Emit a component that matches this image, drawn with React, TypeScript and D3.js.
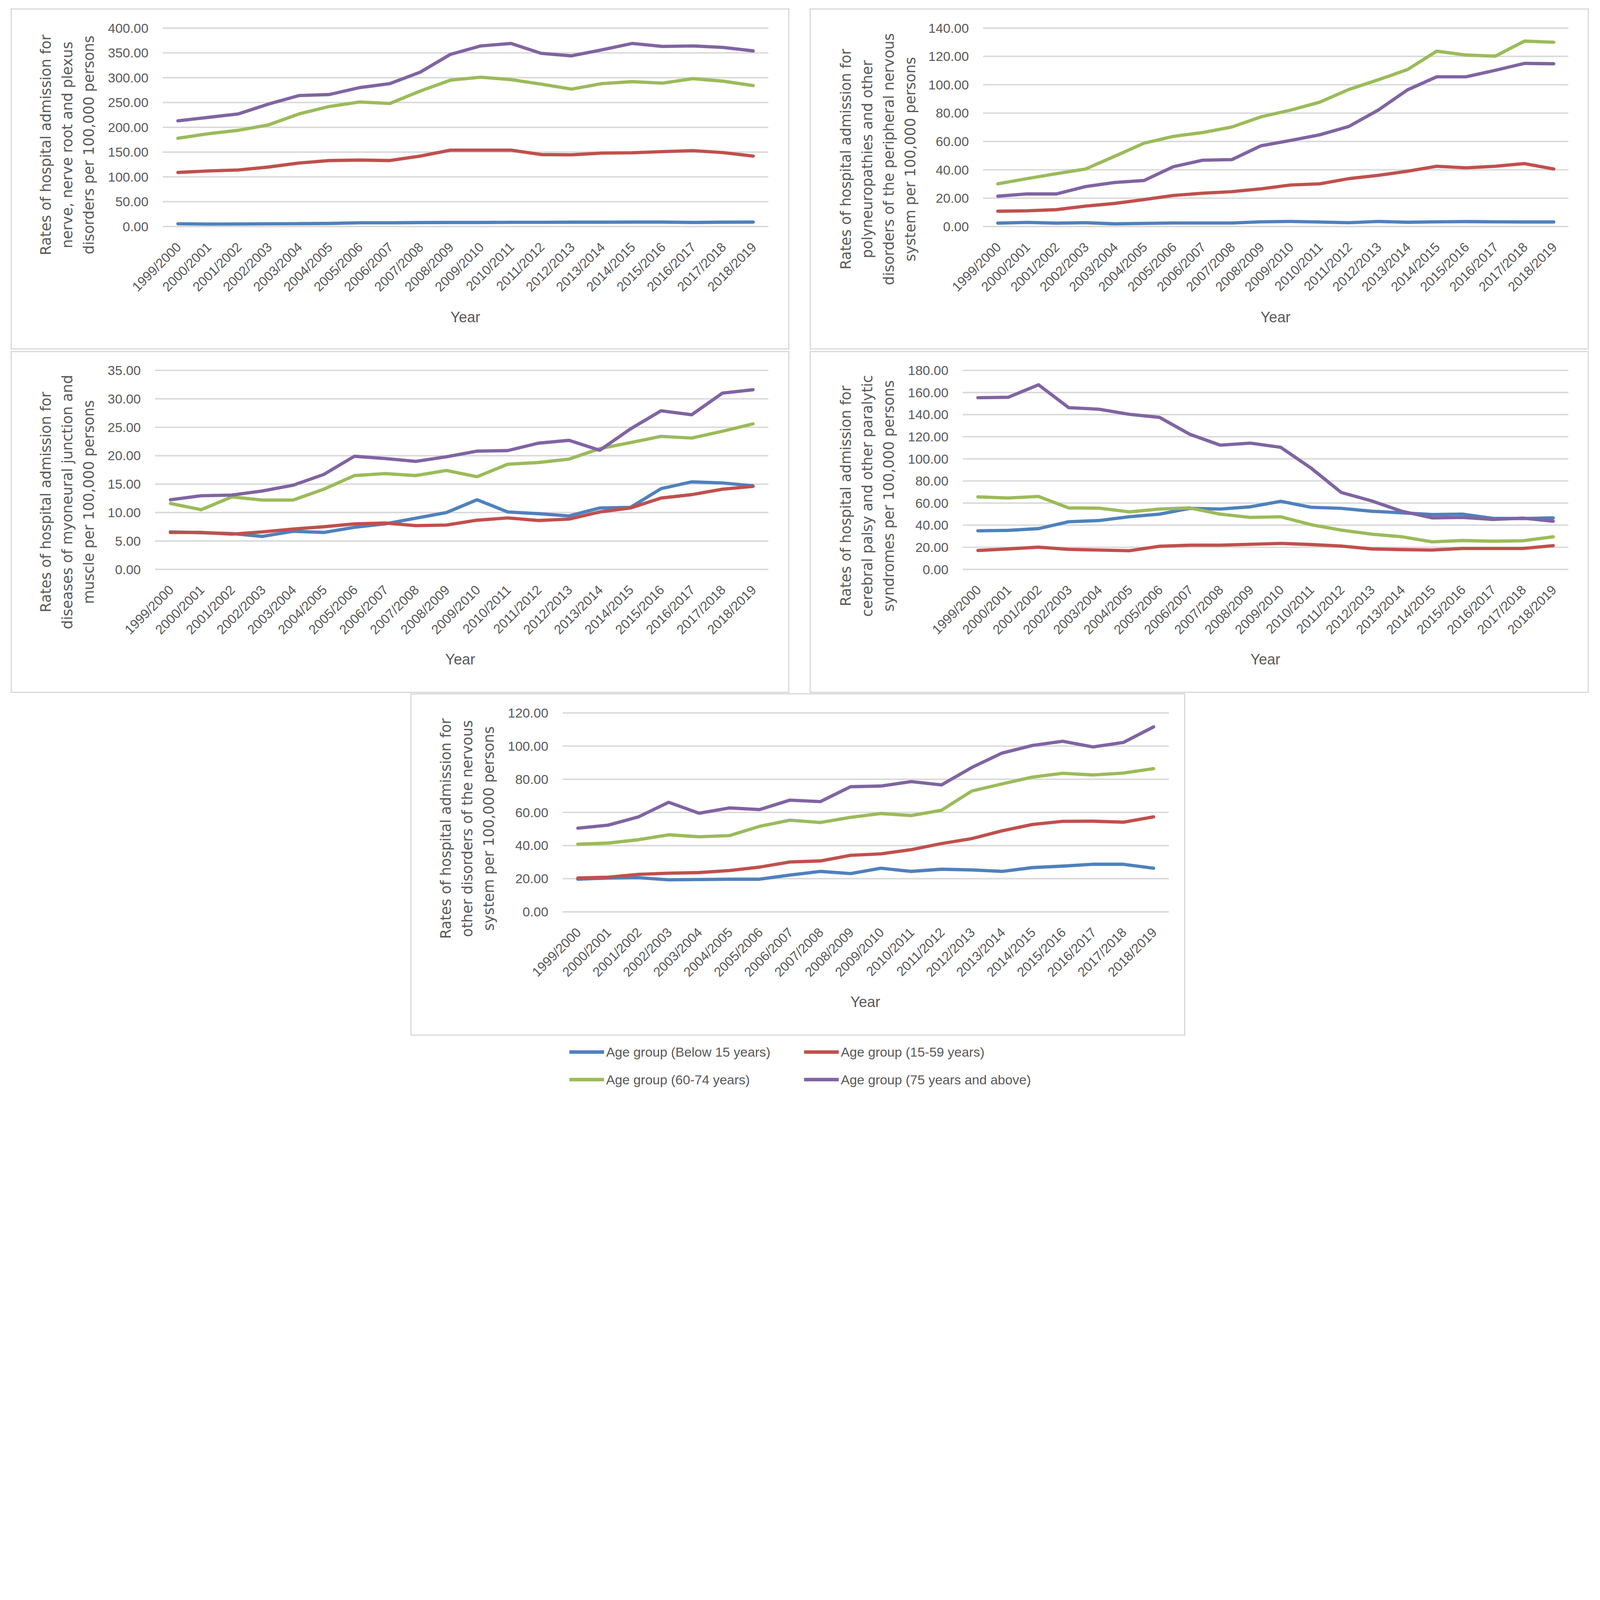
import { useEffect, useRef } from 'react';
import * as d3 from 'd3';

// display units: the reference is 7538 px wide, drawn here on a 1568-wide viewBox
const W = 1568;
const H = 5150 / (7538 / W);

const years = [
  '1999/2000', '2000/2001', '2001/2002', '2002/2003', '2003/2004', '2004/2005',
  '2005/2006', '2006/2007', '2007/2008', '2008/2009', '2009/2010', '2010/2011',
  '2011/2012', '2012/2013', '2013/2014', '2014/2015', '2015/2016', '2016/2017',
  '2017/2018', '2018/2019',
];

const seriesNames = [
  'Age group (Below 15 years)',
  'Age group (15-59 years)',
  'Age group (60-74 years)',
  'Age group (75 years and above)',
];
const colors = ['#4f81bd', '#c0504d', '#9bbb59', '#8064a2'];

// panel 1: nerve, nerve root and plexus disorders
const nerveBelow15 = [5.5, 5, 5.2, 5.5, 5.8, 6.2, 7.5, 7.5, 8, 8.2, 8.2, 8.5, 8.5, 8.8, 8.8, 9, 9, 8.2, 8.8, 9];
const nerve15to59 = [109, 112, 114, 120, 128, 133, 134, 133, 142, 154, 154, 154, 145, 144.5, 148, 148.6, 151, 153, 149, 142];
const nerve60to74 = [178, 187, 194, 205, 227, 242, 251, 248, 273, 295, 301, 296, 287, 277, 288, 292, 289, 298, 293, 284];
const nerve75plus = [213, 220, 227, 247, 264, 266, 280, 288, 311, 347, 364, 369, 349, 344, 356, 369, 363, 364, 361, 354];

// panel 2: polyneuropathies and other disorders of the peripheral nervous system
const polyBelow15 = [2.4, 2.9, 2.4, 2.7, 1.9, 2.2, 2.5, 2.5, 2.5, 3.3, 3.6, 3.2, 2.7, 3.6, 3.0, 3.3, 3.5, 3.3, 3.2, 3.2];
const poly15to59 = [10.8, 11.1, 11.9, 14.4, 16.3, 19, 21.9, 23.5, 24.6, 26.6, 29.3, 30.1, 33.8, 36.1, 39, 42.5, 41.4, 42.5, 44.4, 40.6];
const poly60to74 = [30.1, 33.8, 37.3, 40.6, 49.6, 58.8, 63.6, 66.3, 70.2, 77.4, 82.1, 87.7, 96.7, 103.5, 110.7, 123.7, 121, 120.2, 130.8, 130];
const poly75plus = [21.4, 23, 23, 28.2, 31.1, 32.5, 42.2, 46.8, 47.2, 57, 60.7, 64.7, 70.6, 82.1, 96.4, 105.6, 105.6, 110.2, 115.1, 114.8];

// panel 3: diseases of myoneural junction and muscle
const muscleBelow15 = [6.6, 6.45, 6.3, 5.8, 6.7, 6.5, 7.4, 8.0, 9.0, 10.0, 12.25, 10.1, 9.8, 9.4, 10.8, 10.9, 14.2, 15.4, 15.2, 14.7];
const muscle15to59 = [6.5, 6.5, 6.2, 6.6, 7.1, 7.5, 8.0, 8.15, 7.7, 7.8, 8.65, 9.05, 8.6, 8.85, 10.1, 10.8, 12.55, 13.15, 14.1, 14.6];
const muscle60to74 = [11.6, 10.5, 12.75, 12.2, 12.2, 14.1, 16.5, 16.85, 16.5, 17.4, 16.3, 18.5, 18.8, 19.4, 21.25, 22.3, 23.4, 23.1, 24.3, 25.6];
const muscle75plus = [12.25, 12.95, 13.07, 13.8, 14.8, 16.7, 19.9, 19.5, 19.0, 19.8, 20.8, 20.9, 22.2, 22.7, 20.95, 24.7, 27.9, 27.2, 31.0, 31.6];

// panel 4: cerebral palsy and other paralytic syndromes
const palsyBelow15 = [34.9, 35.3, 36.9, 43.1, 44.2, 47.6, 50, 55.2, 54.6, 56.6, 61.6, 56.2, 55.2, 52.6, 51.2, 49.6, 50, 46.2, 46, 46.6];
const palsy15to59 = [17.1, 18.5, 20.1, 18.1, 17.5, 16.9, 20.9, 21.9, 21.9, 22.7, 23.5, 22.5, 21.1, 18.5, 17.9, 17.5, 18.9, 18.9, 18.9, 21.5];
const palsy60to74 = [65.6, 64.6, 66, 55.6, 55.4, 52, 54.6, 55.6, 50, 47, 47.6, 40.5, 35.5, 31.9, 29.5, 24.9, 26.1, 25.5, 25.9, 29.5];
const palsy75plus = [155.3, 155.7, 167, 146.3, 144.9, 140.3, 137.5, 122.2, 112.4, 114.2, 110.4, 91.7, 69.6, 62, 52.6, 46.6, 47, 45.2, 46.4, 43.6];

// panel 5: other disorders of the nervous system
const otherBelow15 = [19.7, 20.4, 20.6, 19.3, 19.5, 19.7, 19.7, 22.2, 24.4, 23.1, 26.3, 24.4, 25.7, 25.3, 24.4, 26.7, 27.6, 28.7, 28.7, 26.3];
const other15to59 = [20.4, 20.9, 22.6, 23.3, 23.7, 24.9, 27, 30.1, 30.7, 34.1, 35, 37.5, 41.2, 44.2, 48.9, 52.7, 54.6, 54.7, 54.1, 57.3];
const other60to74 = [40.8, 41.5, 43.5, 46.5, 45.3, 46, 51.6, 55.3, 53.9, 57, 59.3, 58.1, 61.3, 72.9, 77.2, 81.3, 83.6, 82.6, 83.7, 86.4];
const other75plus = [50.5, 52.3, 57.3, 66.1, 59.5, 62.7, 61.7, 67.4, 66.5, 75.5, 75.9, 78.6, 76.6, 87.1, 95.8, 100.4, 102.9, 99.5, 102.2, 111.6];

interface PanelSpec {
  box: [number, number, number, number];
  plot: { left: number; right: number; top: number; bottom: number };
  yMax: number;
  yStep: number;
  title: string[];
  titleX: number;
  titleY: number;
  yearX: number;
  yearY: number;
  series: number[][];
}

const panels: PanelSpec[] = [
  {
    box: [11, 8.8, 773, 342],
    plot: { left: 159.5, right: 753, top: 27.5, bottom: 222 },
    yMax: 400, yStep: 50,
    title: ['Rates of hospital admission for', 'nerve, nerve root and plexus', 'disorders per 100,000 persons'],
    titleX: 45, titleY: 142,
    yearX: 456, yearY: 316,
    series: [nerveBelow15, nerve15to59, nerve60to74, nerve75plus],
  },
  {
    box: [794, 8.8, 1556.5, 342],
    plot: { left: 963.5, right: 1537, top: 27.5, bottom: 222 },
    yMax: 140, yStep: 20,
    title: ['Rates of hospital admission for', 'polyneuropathies and other', 'disorders of the peripheral nervous', 'system per 100,000 persons'],
    titleX: 829, titleY: 156,
    yearX: 1250, yearY: 316,
    series: [polyBelow15, poly15to59, poly60to74, poly75plus],
  },
  {
    box: [11, 344.5, 773, 678.5],
    plot: { left: 152, right: 753, top: 363, bottom: 558 },
    yMax: 35, yStep: 5,
    title: ['Rates of hospital admission for', 'diseases of myoneural junction and', 'muscle per 100,000 persons'],
    titleX: 45, titleY: 492,
    yearX: 451, yearY: 651,
    series: [muscleBelow15, muscle15to59, muscle60to74, muscle75plus],
  },
  {
    box: [794, 344.5, 1556.5, 678.5],
    plot: { left: 943.5, right: 1537, top: 363, bottom: 558 },
    yMax: 180, yStep: 20,
    title: ['Rates of hospital admission for', 'cerebral palsy and other paralytic', 'syndromes per 100,000 persons'],
    titleX: 829, titleY: 486,
    yearX: 1240, yearY: 651,
    series: [palsyBelow15, palsy15to59, palsy60to74, palsy75plus],
  },
  {
    box: [402.7, 680, 1161, 1014.4],
    plot: { left: 551.4, right: 1145.4, top: 698.7, bottom: 893.6 },
    yMax: 120, yStep: 20,
    title: ['Rates of hospital admission for', 'other disorders of the nervous', 'system per 100,000 persons'],
    titleX: 437, titleY: 812,
    yearX: 848, yearY: 987,
    series: [otherBelow15, other15to59, other60to74, other75plus],
  },
];

const textColor = '#595959';
const gridColor = '#d9d9d9';
const labelFont = '"Liberation Sans", Arial, sans-serif';
const titleFont = '"DejaVu Sans", Verdana, sans-serif';

export default function App() {
  const svgRef = useRef<SVGSVGElement>(null);

  useEffect(() => {
    document.body.style.margin = '0';
    document.body.style.overflow = 'hidden';
    if (!svgRef.current) return;
    const svg = d3.select(svgRef.current);
    svg.selectAll('*').remove();

    svg.append('rect').attr('width', W).attr('height', H).attr('fill', '#fff');

    panels.forEach((p) => {
      const g = svg.append('g');

      // panel frame
      g.append('rect')
        .attr('x', p.box[0])
        .attr('y', p.box[1])
        .attr('width', p.box[2] - p.box[0])
        .attr('height', p.box[3] - p.box[1])
        .attr('fill', '#fff')
        .attr('stroke', gridColor)
        .attr('stroke-width', 1.2);

      const x = d3.scalePoint<string>().domain(years).range([p.plot.left, p.plot.right]).padding(0.5);
      const y = d3.scaleLinear().domain([0, p.yMax]).range([p.plot.bottom, p.plot.top]);
      const ticks = d3.range(0, p.yMax + p.yStep / 2, p.yStep);

      // grid lines
      g.append('g')
        .selectAll('line')
        .data(ticks)
        .enter()
        .append('line')
        .attr('x1', p.plot.left)
        .attr('x2', p.plot.right)
        .attr('y1', (d) => y(d))
        .attr('y2', (d) => y(d))
        .attr('stroke', gridColor)
        .attr('stroke-width', 1.4);

      // y tick labels
      g.append('g')
        .selectAll('text')
        .data(ticks)
        .enter()
        .append('text')
        .attr('x', p.plot.left - 14)
        .attr('y', (d) => y(d))
        .attr('dy', '0.35em')
        .attr('text-anchor', 'end')
        .attr('font-family', labelFont)
        .attr('font-size', 13)
        .attr('fill', textColor)
        .text((d) => d.toFixed(2));

      // x tick labels, rotated
      g.append('g')
        .selectAll('text')
        .data(years)
        .enter()
        .append('text')
        .attr('transform', (d) => `translate(${x(d)! + 4},${p.plot.bottom + 21}) rotate(-45)`)
        .attr('text-anchor', 'end')
        .attr('font-family', labelFont)
        .attr('font-size', 13)
        .attr('fill', textColor)
        .text((d) => d);

      // axis titles
      g.append('text')
        .attr('x', p.yearX)
        .attr('y', p.yearY)
        .attr('text-anchor', 'middle')
        .attr('font-family', labelFont)
        .attr('font-size', 14.5)
        .attr('fill', textColor)
        .text('Year');

      const t = g.append('text')
        .attr('transform', `translate(${p.titleX},${p.titleY}) rotate(-90)`)
        .attr('text-anchor', 'middle')
        .attr('font-family', titleFont)
        .attr('font-size', 14)
        .attr('fill', textColor);
      p.title.forEach((line, i) => {
        t.append('tspan')
          .attr('x', 0)
          .attr('y', i * 21)
          .attr('dy', '0.35em')
          .text(line);
      });

      // series lines
      const line = d3.line<number>()
        .x((_, i) => x(years[i])!)
        .y((d) => y(d));

      g.append('g')
        .selectAll('path')
        .data(p.series)
        .enter()
        .append('path')
        .attr('d', (d) => line(d))
        .attr('fill', 'none')
        .attr('stroke', (_, i) => colors[i])
        .attr('stroke-width', 3.2)
        .attr('stroke-linejoin', 'round')
        .attr('stroke-linecap', 'round');
    });

    // legend
    const legendPos = [
      [558, 1031],
      [788, 1031],
      [558, 1058],
      [788, 1058],
    ];
    const legend = svg.append('g');
    seriesNames.forEach((name, i) => {
      const [lx, ly] = legendPos[i];
      legend.append('line')
        .attr('x1', lx)
        .attr('x2', lx + 34)
        .attr('y1', ly)
        .attr('y2', ly)
        .attr('stroke', colors[i])
        .attr('stroke-width', 3.5);
      legend.append('text')
        .attr('x', lx + 36)
        .attr('y', ly)
        .attr('dy', '0.35em')
        .attr('font-family', labelFont)
        .attr('font-size', 13)
        .attr('fill', textColor)
        .text(name);
    });
  }, []);

  return (
    <svg
      ref={svgRef}
      viewBox={`0 0 ${W} ${H}`}
      preserveAspectRatio="xMidYMin meet"
      style={{
        position: 'absolute',
        left: 0,
        top: 0,
        width: '100vw',
        height: `${(H / W) * 100}vw`,
        display: 'block',
      }}
    />
  );
}
